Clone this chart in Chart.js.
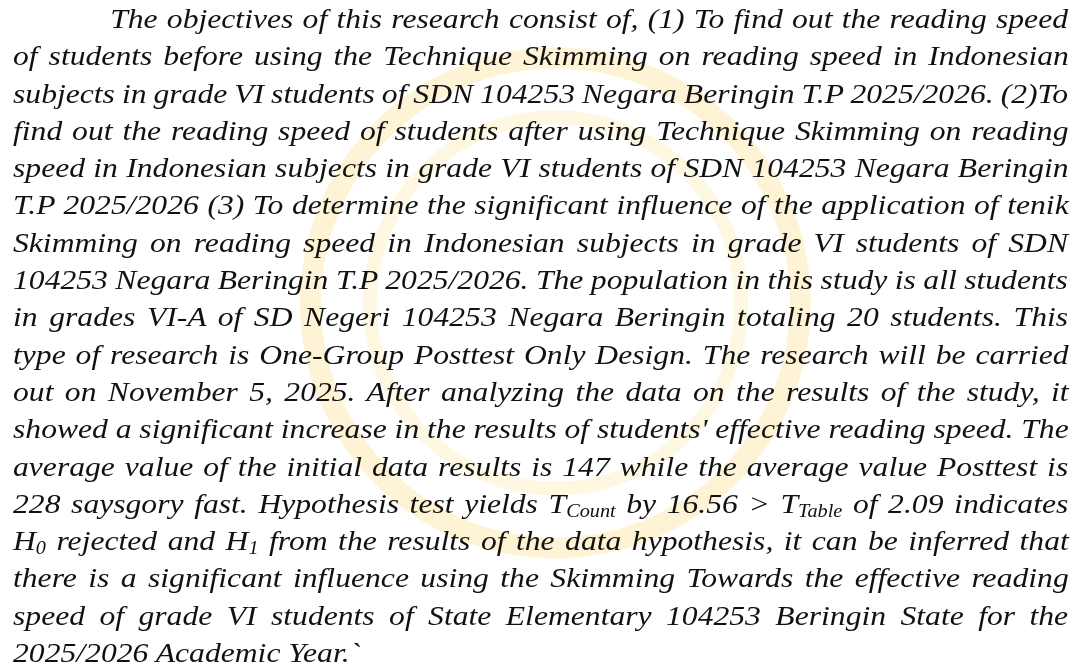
<!DOCTYPE html>
<html>
<head>
<meta charset="utf-8">
<script src="https://cdn.jsdelivr.net/npm/chart.js@4/dist/chart.umd.min.js"></script>
<style>
  html, body { margin: 0; padding: 0; background: #fff; }
  #wrap { position: relative; width: 1081px; height: 666px; overflow: hidden; }
  #mark { position: absolute; left: 0; top: 0; }
  #text {
    position: absolute; left: 13px; top: 0; width: 934px;
    transform: scaleX(1.13); transform-origin: 0 0;
    font-family: "Liberation Serif", "Times New Roman", serif;
    font-style: italic; font-size: 28px; line-height: 37.3px; color: #111;
  }
  .ln { white-space: nowrap; height: 37.3px; }
  .ln span { display: inline-block; }
  sub { font-size: 0.64em; line-height: 0; vertical-align: -0.2em; }
</style>
</head>
<body>
<div id="wrap">
  <canvas id="mark" width="1081" height="666"></canvas>
  <div id="text"></div>
</div>
<script>
// paragraph, one entry per printed line (subscripts kept as markup)
const lines = [
  "The objectives of this research consist of, (1) To find out the reading speed",
  "of students before using the Technique Skimming on reading speed in Indonesian",
  "subjects in grade VI students of SDN 104253 Negara Beringin T.P 2025/2026. (2)To",
  "find out the reading speed of students after using Technique Skimming on reading",
  "speed in Indonesian subjects in grade VI students of SDN 104253 Negara Beringin",
  "T.P 2025/2026 (3) To determine the significant influence of the application of tenik",
  "Skimming on reading speed in Indonesian subjects in grade VI students of SDN",
  "104253 Negara Beringin T.P 2025/2026. The population in this study is all students",
  "in grades VI-A of SD Negeri 104253 Negara Beringin totaling 20 students. This",
  "type of research is One-Group Posttest Only Design. The research will be carried",
  "out on November 5, 2025. After analyzing the data on the results of the study, it",
  "showed a significant increase in the results of students' effective reading speed. The",
  "average value of the initial data results is 147 while the average value Posttest is",
  "228 saysgory fast. Hypothesis test yields T<sub>Count</sub> by 16.56 &gt; T<sub>Table</sub> of 2.09 indicates",
  "H<sub>0</sub> rejected and H<sub>1</sub> from the results of the data hypothesis, it can be inferred that",
  "there is a significant influence using the Skimming Towards the effective reading",
  "speed of grade VI students of State Elementary 104253 Beringin State for the",
  "2025/2026 Academic Year.`"
];
const firstIndent = 86;
const lineWidth = 934;

// faint logo rings behind the text
const ringLabels = ["mark"];
const outerRing = [1];
const gapRing = [1];
const innerRing = [1];

const box = document.getElementById("text");
lines.forEach((html, i) => {
  const row = document.createElement("div");
  row.className = "ln";
  const span = document.createElement("span");
  span.innerHTML = html;
  row.appendChild(span);
  box.appendChild(row);
  const indent = i === 0 ? firstIndent : 0;
  span.style.marginLeft = indent + "px";
  if (i === lines.length - 1) return;
  // justify: spread the free room over the spaces (measured before scaling)
  const spaces = span.textContent.split(" ").length - 1;
  const free = lineWidth - indent - span.offsetWidth;
  span.style.wordSpacing = (free / spaces) + "px";
});

new Chart(document.getElementById("mark"), {
  type: "doughnut",
  data: {
    labels: ringLabels,
    datasets: [
      { data: outerRing, backgroundColor: "rgba(251, 210, 80, 0.24)", borderWidth: 0, weight: 3 },
      { data: gapRing, backgroundColor: "rgba(0, 0, 0, 0)", borderWidth: 0, weight: 6 },
      { data: innerRing, backgroundColor: "rgba(251, 210, 80, 0.16)", borderWidth: 0, weight: 2 },
    ],
  },
  options: {
    responsive: false,
    animation: false,
    cutout: "70%",
    layout: { padding: { left: 300, right: 270, top: 40, bottom: 100 } },
    plugins: { legend: { display: false }, tooltip: { enabled: false } },
  },
});
</script>
</body>
</html>
